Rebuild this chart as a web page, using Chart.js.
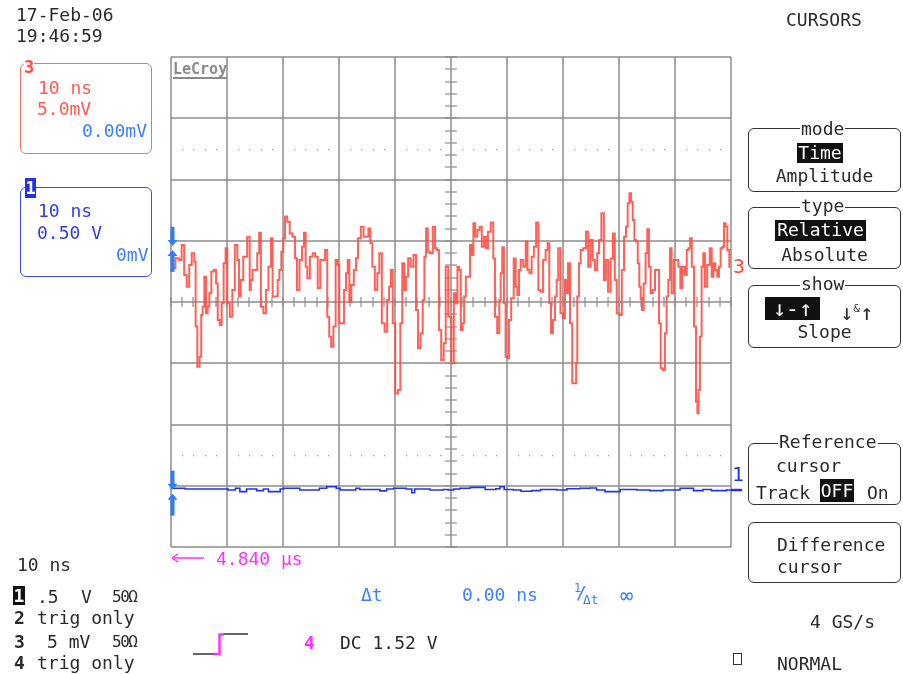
<!DOCTYPE html>
<html>
<head>
<meta charset="utf-8">
<script src="https://cdn.jsdelivr.net/npm/chart.js@4.4.1/dist/chart.umd.min.js"></script>
<style>
  body { margin: 0; background: #fff; width: 903px; height: 674px; overflow: hidden; position: relative; }
  #scope { position: absolute; left: 0; top: 0; }
  .t { position: absolute; white-space: pre; font: 18px/18px 'DejaVu Sans Mono', monospace; color: #2a2a2a; }
  .box { position: absolute; box-sizing: border-box; border: 1.5px solid #333; border-radius: 6px; }
  .lbl { position: absolute; background: #fff; padding: 0 1px; }
  .inv { position: absolute; background: #111; color: #fff; font: 18px/20px 'DejaVu Sans Mono', monospace; text-align: center; }
  .ctr { width: 153px; left: 748px; text-align: center; }
  .b { font-weight: bold; }
</style>
</head>
<body>
<canvas id="scope" width="903" height="674"></canvas>

<!-- top left stamp -->
<div class="t" style="left:16px;top:6px">17-Feb-06</div>
<div class="t" style="left:16px;top:27px">19:46:59</div>

<!-- channel 3 box -->
<div class="box" style="left:20px;top:63px;width:132px;height:91px;border-color:#ff6a60"></div>
<div class="t b" style="left:24px;top:59px;font-size:17px;line-height:17px;color:#ff4a40;background:#fff">3</div>
<div class="t" style="left:38px;top:79px;color:#ff5a50">10 ns</div>
<div class="t" style="left:37px;top:100px;color:#ff5a50">5.0mV</div>
<div class="t" style="left:82px;top:122px;color:#3a80ff">0.00mV</div>

<!-- channel 1 box -->
<div class="box" style="left:20px;top:187px;width:132px;height:90px;border-color:#3a4cf0"></div>
<div class="t b" style="left:25px;top:178px;width:11px;height:20px;line-height:20px;background:#2233dd;color:#fff;text-align:center;font-size:17px">1</div>
<div class="t" style="left:38px;top:202px;color:#3040e0">10 ns</div>
<div class="t" style="left:37px;top:224px;color:#3040e0">0.50 V</div>
<div class="t" style="left:116px;top:246px;color:#3a80ff">0mV</div>

<!-- logo -->
<div class="t b" style="left:173px;top:61px;font-size:15px;line-height:16px;color:#8a8a8a;border-bottom:2px solid #8a8a8a">LeCroy</div>

<!-- trace markers on the right -->
<div class="t" style="left:733px;top:256px;font-size:20px;line-height:20px;color:#ff4a40">3</div>
<div class="t" style="left:732px;top:464px;font-size:20px;line-height:20px;color:#2233ee">1</div>

<!-- menu -->
<div class="t" style="left:786px;top:11px">CURSORS</div>

<div class="box" style="left:748px;top:128px;width:153px;height:64px"></div>
<div class="t ctr"><span class="lbl" style="top:120px;left:52px">mode</span></div>
<div class="inv" style="left:797px;top:143px;width:46px">Time</div>
<div class="t ctr" style="top:167px">Amplitude</div>

<div class="box" style="left:748px;top:207px;width:153px;height:62px"></div>
<div class="t ctr"><span class="lbl" style="top:197px;left:52px">type</span></div>
<div class="inv" style="left:775px;top:220px;width:91px;height:21px">Relative</div>
<div class="t ctr" style="top:246px">Absolute</div>

<div class="box" style="left:748px;top:285px;width:153px;height:63px"></div>
<div class="t ctr"><span class="lbl" style="top:275px;left:52px">show</span></div>
<div class="inv" style="left:765px;top:297px;width:55px;height:23px;line-height:23px;font-size:22px">↓-↑</div>
<div class="t" style="left:840px;top:298px;font-size:22px;line-height:22px">↓<span style="font-size:11px;vertical-align:8px">&amp;</span>↑</div>
<div class="t ctr" style="top:323px">Slope</div>

<div class="box" style="left:748px;top:443px;width:153px;height:62px"></div>
<div class="t ctr"><span class="lbl" style="top:433px;left:30px">Reference</span></div>
<div class="t" style="left:776px;top:457px">cursor</div>
<div class="t" style="left:756px;top:484px">Track</div>
<div class="inv" style="left:820px;top:479px;width:34px;height:23px;line-height:23px">OFF</div>
<div class="t" style="left:867px;top:484px">On</div>

<div class="box" style="left:748px;top:522px;width:153px;height:61px"></div>
<div class="t" style="left:777px;top:536px">Difference</div>
<div class="t" style="left:777px;top:558px">cursor</div>

<div class="t" style="left:810px;top:613px">4 GS/s</div>
<div style="position:absolute;left:733px;top:653px;width:9px;height:12px;box-sizing:border-box;border:1.5px solid #333"></div>
<div class="t" style="left:777px;top:655px">NORMAL</div>

<!-- bottom left channel summary -->
<div class="t" style="left:17px;top:556px">10 ns</div>
<div class="t b" style="left:13px;top:586px;width:12px;height:19px;line-height:19px;background:#111;color:#fff;text-align:center">1</div>
<div class="t" style="left:37px;top:588px">.5</div>
<div class="t" style="left:81px;top:588px">V</div>
<div class="t" style="left:112px;top:588px;font-size:16px;line-height:18px;letter-spacing:-1.5px">50Ω</div>
<div class="t b" style="left:14px;top:609px">2</div>
<div class="t" style="left:37px;top:609px">trig only</div>
<div class="t b" style="left:14px;top:633px">3</div>
<div class="t" style="left:47px;top:633px">5 mV</div>
<div class="t" style="left:112px;top:633px;font-size:16px;line-height:18px;letter-spacing:-1.5px">50Ω</div>
<div class="t b" style="left:14px;top:654px">4</div>
<div class="t" style="left:37px;top:654px">trig only</div>

<!-- cursor readout -->
<div class="t" style="left:216px;top:550px;color:#ff30ff">4.840 µs</div>
<div class="t" style="left:361px;top:586px;color:#3a80ff">Δt</div>
<div class="t" style="left:462px;top:586px;color:#3a80ff">0.00 ns</div>
<div class="t" style="left:574px;top:582px;font-size:12px;line-height:12px;color:#3a80ff">1</div>
<div class="t" style="left:576px;top:584px;font-size:18px;line-height:18px;color:#3a80ff">/</div>
<div class="t" style="left:583px;top:593px;font-size:13px;line-height:13px;color:#3a80ff">Δt</div>
<div class="t" style="left:620px;top:585px;font-size:22px;line-height:22px;color:#3a80ff">∞</div>

<!-- trigger -->
<div class="t b" style="left:304px;top:634px;color:#ff30ff">4</div>
<div class="t" style="left:340px;top:634px">DC 1.52 V</div>

<script>
// time axis (ns), 10 ns/div
const timeTicks = [-50, -40, -30, -20, -10, 0, 10, 20, 30, 40, 50];
// channel 3 amplitude axis (mV), 5 mV/div
const ch3Ticks = [-20, -15, -10, -5, 0, 5, 10, 15, 20];

// channel 3 trace: time (ns) and amplitude (mV)
const ch3Time = [
  -49.7, -48.7, -48.4, -47.8, -47.5, -46.9, -46.6, -46.0, -45.7, -45.5,
  -45.1, -44.7, -44.5, -44.2, -43.9, -43.6, -43.3, -43.0, -42.6, -42.1,
  -41.8, -41.5, -41.1, -40.8, -40.4, -40.1, -39.8, -39.2, -38.9, -38.3,
  -38.0, -37.7, -37.4, -36.8, -36.0, -35.9, -35.6, -35.3, -34.8, -34.4,
  -34.1, -33.8, -33.2, -32.9, -32.3, -32.0, -31.7, -31.1, -30.8, -30.5,
  -30.1, -29.8, -29.5, -29.0, -28.6, -28.0, -27.7, -27.3, -26.8, -26.4,
  -26.1, -25.8, -25.5, -24.9, -24.5, -24.0, -23.6, -23.1, -22.7, -22.3,
  -21.9, -21.6, -21.2, -20.8, -20.4, -20.1, -19.8, -19.3, -18.9, -18.6,
  -18.3, -18.0, -17.6, -17.1, -16.8, -16.4, -15.8, -15.4, -14.9, -14.6,
  -14.2, -13.9, -13.3, -13.0, -12.6, -12.1, -11.6, -11.2, -10.9, -10.6,
  -10.2, -9.7, -9.2, -8.9, -8.5, -8.2, -7.9, -7.4, -7.0, -6.4,
  -6.1, -5.7, -5.2, -4.9, -4.6, -4.3, -4.0, -3.5, -3.0, -2.7,
  -2.3, -2.0, -1.5, -1.1, -0.8, -0.2, 0.3, 0.7, 1.0, 1.3,
  1.6, 1.9, 2.2, 2.5, 2.8, 3.3, 3.5, 3.9, 4.1, 4.5,
  4.9, 5.3, 5.7, 6.1, 6.4, 6.8, 7.4, 7.7, 8.0, 8.5,
  8.75, 9.0, 9.3, 9.6, 9.9, 10.2, 10.5, 11.0, 11.4, 11.7,
  12.0, 12.3, 12.6, 13.2, 13.5, 13.8, 14.2, 14.6, 15.0, 15.4,
  15.8, 16.2, 16.7, 17.1, 17.4, 17.7, 18.0, 18.4, 18.75, 19.0,
  19.3, 19.8, 20.2, 20.5, 20.8, 21.0, 21.5, 21.8, 22.3, 22.4,
  22.7, 23.0, 23.3, 23.9, 24.3, 24.7, 25.1, 25.5, 25.9, 26.3,
  26.6, 27.1, 27.5, 27.8, 28.3, 28.7, 29.1, 29.4, 29.8, 30.3,
  30.7, 31.1, 31.4, 31.7, 32.0, 32.3, 32.6, 32.9, 33.2, 33.5,
  33.75, 34.0, 34.2, 34.6, 34.9, 35.2, 35.5, 35.8, 36.25, 36.6,
  37.0, 37.3, 37.6, 38.0, 38.4, 38.6, 39.0, 39.2, 39.6, 40.0,
  40.4, 40.8, 41.1, 41.5, 42.0, 42.2, 42.6, 42.8, 43.2, 43.6,
  43.9, 44.1, 44.3, 44.6, 44.9, 45.2, 45.5, 46.0, 46.4, 46.7,
  47.0, 47.4, 47.7, 48.0, 48.3, 48.6, 48.9, 49.2, 49.5, 49.9
];
const ch3mV = [
  2.75, 3.57, 3.43, 4.65, 2.20, 1.25, 3.02, 3.97, 3.29, -2.01,
  -5.28, -4.46, -1.06, -0.38, 2.07, -0.92, -0.38, 0.71, 2.48, 2.61,
  1.52, -1.47, -1.88, -0.11, 3.16, 4.38, -0.11, -1.20, 0.98, 4.65,
  3.43, 0.44, 1.80, 3.70, 5.33, 0.98, 1.80, 2.61, 2.61, 3.97,
  5.66, -0.38, -0.92, 0.98, 2.88, 5.20, 0.44, 0.44, 1.80, 2.61,
  4.11, 5.20, 6.97, 6.56, 5.60, 5.33, 3.57, 0.98, 3.43, 4.52,
  5.66, 2.88, 1.93, 3.70, 3.97, 3.70, 1.12, 3.43, 3.43, 4.24,
  -1.20, -2.83, -3.65, -2.01, 3.43, 3.02, -1.74, -1.74, 0.98, 2.34,
  3.43, 0.03, 1.39, 2.61, 3.57, 5.20, 6.15, 5.33, 5.33, 6.01,
  4.79, 2.88, 0.98, 2.34, 3.97, -1.74, -2.42, 0.16, 1.25, 2.61,
  -1.74, -7.46, -7.18, -1.74, 3.16, 0.98, 2.07, 3.57, 2.88, 3.84,
  -0.65, -3.78, -2.56, 0.16, 3.70, 6.01, 4.11, 3.97, 6.15, 4.38,
  4.24, -2.29, -4.73, -3.37, 2.88, -1.20, -5.01, 0.71, -0.11, 2.88,
  2.61, -2.29, -1.74, 0.44, 2.07, 2.07, 4.65, 3.84, 6.42, 5.33,
  5.88, 6.15, 4.52, 5.33, 4.38, 5.74, 6.48, 3.56, -1.20, -2.56,
  0.16, 2.34, 4.46, -0.11, -4.46, -4.60, -1.47, 0.30, 3.56, 1.25,
  0.57, 2.61, 3.43, 2.88, 4.93, 2.61, 2.34, 3.70, 4.52, 6.48,
  0.98, 0.84, 3.43, 4.24, 4.79, -0.11, -2.56, -1.47, 0.44, 1.80,
  4.38, -0.92, -1.33, 1.80, 0.71, 3.16, -1.74, -6.64, -6.64, -5.01,
  0.44, 3.16, 4.24, 4.38, 5.74, 2.88, 5.06, 3.43, 2.61, 3.97,
  5.06, 7.24, 1.80, 3.43, 0.84, 3.56, 5.60, 1.80, -0.92, -1.06,
  2.61, 5.33, 6.15, 8.05, 8.87, 8.19, 6.69, 5.06, 4.93, 3.16,
  1.25, 0.30, -0.65, 1.52, 3.97, 5.93, 2.88, 0.71, 0.98, 2.61,
  2.61, -1.74, -5.41, -5.55, -2.56, 0.44, 1.80, 4.38, 0.71, 3.43,
  3.43, 2.88, 1.12, 2.88, 2.20, 4.24, 4.38, 5.20, 2.88, -2.01,
  -8.14, -9.09, -7.18, -2.83, 2.88, 3.97, 1.25, 3.02, 4.38, 2.07,
  3.16, 2.61, 2.07, 2.88, 4.38, 4.52, 6.42, 6.15, 4.24, 2.88
];

// channel 1 trace: time (ns) and level (V), 0.5 V/div
const ch1Time = [
  -50, -47.8, -47.5, -40.1, -39.8, -39.2, -38.5, -37.7, -37.1, -36.5,
  -34.7, -33.5, -32.6, -31.4, -30.5, -29.9, -27.0, -24.6, -23.5, -22.2,
  -20.5, -19.8, -18.0, -17.0, -16.3, -13.9, -12.7, -11.5, -10.3, -8.0,
  -7.0, -6.5, -3.75, -2.5, -1.4, -0.5, 0.5, 1.6, 3.4, 5.0,
  6.1, 8.0, 8.75, 9.5, 11.1, 12.5, 14.4, 16.0, 18.9, 20.7,
  23.0, 24.8, 26.0, 27.5, 28.4, 30.2, 33.2, 35.5, 37.9, 40.9,
  43.3, 45.0, 46.5, 48.5, 49.2, 50
];
const ch1V = [
  -1.521, -1.521, -1.527, -1.527, -1.535, -1.535, -1.521, -1.548, -1.548, -1.527,
  -1.540, -1.527, -1.548, -1.548, -1.527, -1.521, -1.535, -1.535, -1.521, -1.508,
  -1.521, -1.535, -1.535, -1.521, -1.530, -1.530, -1.542, -1.527, -1.521, -1.527,
  -1.557, -1.527, -1.535, -1.535, -1.530, -1.535, -1.527, -1.521, -1.513, -1.513,
  -1.530, -1.525, -1.508, -1.530, -1.535, -1.545, -1.540, -1.530, -1.535, -1.525,
  -1.521, -1.518, -1.535, -1.548, -1.548, -1.530, -1.535, -1.540, -1.535, -1.521,
  -1.540, -1.530, -1.540, -1.540, -1.535, -1.535
];

// cursor marker levels at the left edge
const ch3CursorMV = 4.5;
const ch1CursorV = -1.54;

const GRID = '#8c8c8c';
const CURSOR_BLUE = '#2f7cff';

function line(ctx, x1, y1, x2, y2) {
  ctx.beginPath(); ctx.moveTo(x1, y1); ctx.lineTo(x2, y2); ctx.stroke();
}

function cursorMarker(ctx, x, py) {
  ctx.fillStyle = CURSOR_BLUE;
  ctx.fillRect(x - 2, py - 20, 4, 15);
  ctx.beginPath(); ctx.moveTo(x - 5, py - 7); ctx.lineTo(x + 5, py - 7); ctx.lineTo(x, py - 1); ctx.fill();
  ctx.fillRect(x - 2, py + 7, 4, 18);
  ctx.beginPath(); ctx.moveTo(x - 5, py + 9); ctx.lineTo(x + 5, py + 9); ctx.lineTo(x, py + 3); ctx.fill();
}

// scope graticule + screen furniture
const scopeScreen = {
  id: 'scopeScreen',
  beforeDatasetsDraw(chart) {
    const { ctx, chartArea: a, scales: { x, y } } = chart;
    ctx.save();
    ctx.strokeStyle = GRID;
    ctx.lineWidth = 1.5;
    timeTicks.forEach(t => {
      const px = Math.round(x.getPixelForValue(t));
      line(ctx, px, a.top, px, a.bottom);
    });
    ch3Ticks.forEach(v => {
      const py = Math.round(y.getPixelForValue(v));
      line(ctx, a.left, py, a.right, py);
    });
    // minor ticks along the centre axes
    const cx = x.getPixelForValue(0), cy = y.getPixelForValue(0);
    ctx.lineWidth = 1.2;
    for (let t = -50; t <= 50; t += 2) {
      const px = Math.round(x.getPixelForValue(t));
      line(ctx, px, cy - 5, px, cy + 5);
    }
    for (let v = -20; v <= 20; v += 1) {
      const py = Math.round(y.getPixelForValue(v));
      line(ctx, cx - 6, py, cx + 6, py);
    }
    // dotted rows at +/- 2.5 div
    ctx.fillStyle = '#a0a0a0';
    [12.5, -12.5].forEach(v => {
      const py = Math.round(y.getPixelForValue(v));
      for (let t = -48; t < 50; t += 2) {
        if (t % 10 === 0) continue;
        ctx.fillRect(Math.round(x.getPixelForValue(t)), py, 1.3, 1.3);
      }
    });
    ctx.restore();
  },
  afterDraw(chart) {
    const { ctx, chartArea: a, scales: { y, y1 } } = chart;
    ctx.save();
    cursorMarker(ctx, a.left + 1.5, y.getPixelForValue(ch3CursorMV));
    cursorMarker(ctx, a.left + 1.5, y1.getPixelForValue(ch1CursorV));
    // channel 1 level tag
    ctx.strokeStyle = '#2233ee';
    ctx.lineWidth = 2.5;
    const p1 = y1.getPixelForValue(ch1V[ch1V.length - 1]);
    line(ctx, a.right, p1, a.right + 11, p1);
    // off-screen cursor arrow
    ctx.strokeStyle = '#ff30ff';
    ctx.lineWidth = 1.5;
    line(ctx, 174, 558, 204, 558);
    line(ctx, 172, 558, 178, 554);
    line(ctx, 172, 558, 178, 562);
    // trigger edge symbol
    ctx.strokeStyle = '#333';
    ctx.lineWidth = 1.5;
    line(ctx, 193, 654, 218, 654);
    line(ctx, 223, 634, 248, 634);
    ctx.strokeStyle = '#ff30ff';
    ctx.lineWidth = 2.5;
    ctx.beginPath(); ctx.moveTo(214, 654); ctx.lineTo(219.5, 654); ctx.lineTo(219.5, 634.5); ctx.lineTo(224, 634.5); ctx.stroke();
    ctx.restore();
  }
};

new Chart(document.getElementById('scope'), {
  type: 'line',
  data: {
    datasets: [
      {
        label: 'C3',
        data: ch3Time.map((t, i) => ({ x: t, y: ch3mV[i] })),
        yAxisID: 'y',
        borderColor: 'rgba(255, 80, 70, 0.9)',
        borderWidth: 2,
        pointRadius: 0,
        stepped: 'middle'
      },
      {
        label: 'C1',
        data: ch1Time.map((t, i) => ({ x: t, y: ch1V[i] })),
        yAxisID: 'y1',
        borderColor: '#2233ee',
        borderWidth: 1.6,
        pointRadius: 0,
        stepped: true
      }
    ]
  },
  options: {
    responsive: false,
    animation: false,
    layout: { padding: { left: 171, top: 57, right: 172, bottom: 127 } },
    plugins: { legend: { display: false }, tooltip: { enabled: false } },
    scales: {
      x: { type: 'linear', min: -50, max: 50, display: false },
      y: { min: -20, max: 20, display: false },
      y1: { min: -2, max: 2, display: false }
    }
  },
  plugins: [scopeScreen]
});
</script>
</body>
</html>
